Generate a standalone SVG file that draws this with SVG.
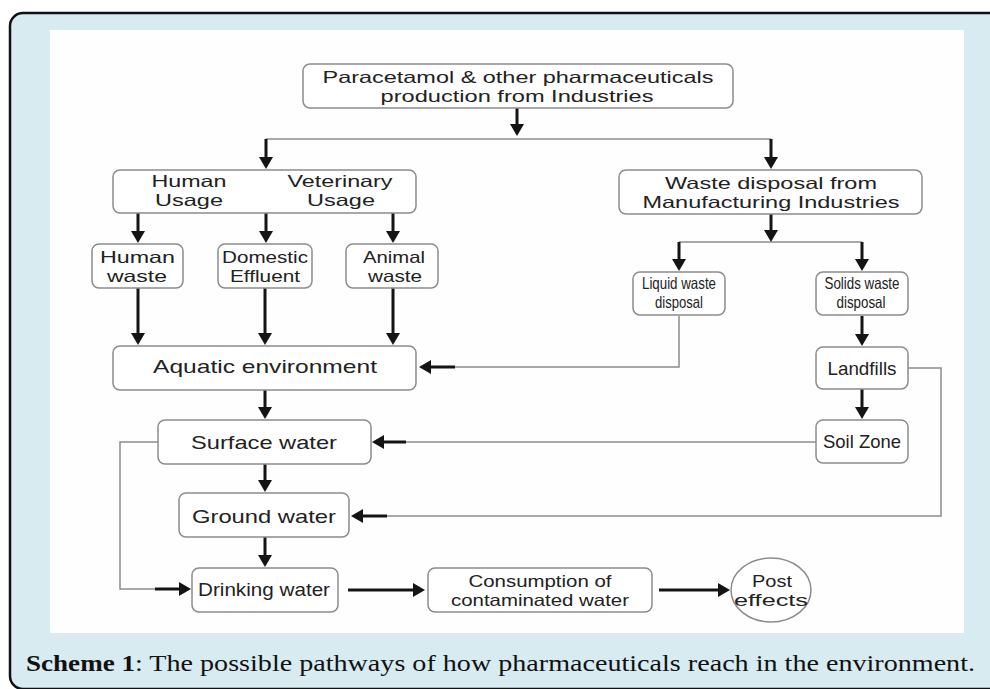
<svg xmlns="http://www.w3.org/2000/svg" width="990" height="689" viewBox="0 0 990 689">
<style>
.box{fill:#ffffff;stroke:#8c8c8c;stroke-width:1.5}
.t{font-family:"Liberation Sans",Arial,sans-serif;font-size:19px;fill:#222;text-anchor:middle}
.t2{font-family:"Liberation Sans",Arial,sans-serif;font-size:16.5px;fill:#222;text-anchor:middle}
.thin{fill:none;stroke:#8c8c8c;stroke-width:1.5}
.thick{stroke:#141414;stroke-width:3;marker-end:url(#ah)}
.cap{font-family:"Liberation Serif","Times New Roman",serif;font-size:23px;fill:#111}
</style>
<defs>
<marker id="ah" markerUnits="userSpaceOnUse" viewBox="0 0 12 14" markerWidth="12" markerHeight="14" refX="4" refY="7" orient="auto">
<path d="M0,0 L12,7 L0,14 z" fill="#141414"/>
</marker>
</defs>
<rect x="0" y="0" width="990" height="689" fill="#ffffff"/>
<rect x="10" y="13" width="1000" height="676" rx="13" fill="#d7ebf1" stroke="#111" stroke-width="2.5"/>
<rect x="50" y="30" width="914" height="603" fill="#fefefe"/>

<g id="connectors">
<path class="thin" d="M266,139 H771"/>
<path class="thin" d="M266,170 V213"/>
<path class="thin" d="M679,242 H862"/>
<path class="thin" d="M679,316 V367 H455"/>
<path class="thin" d="M816,442 H406"/>
<path class="thin" d="M908,368 H941 V516 H387"/>
<path class="thin" d="M158,442 H120 V589 H155"/>
<line class="thick" x1="517" y1="108" x2="517" y2="128"/>
<line class="thick" x1="266" y1="139" x2="266" y2="161"/>
<line class="thick" x1="771" y1="139" x2="771" y2="161"/>
<line class="thick" x1="138" y1="213" x2="138" y2="235"/>
<line class="thick" x1="266" y1="213" x2="266" y2="235"/>
<line class="thick" x1="393" y1="213" x2="393" y2="235"/>
<line class="thick" x1="138" y1="288" x2="138" y2="337"/>
<line class="thick" x1="265" y1="288" x2="265" y2="337"/>
<line class="thick" x1="393" y1="288" x2="393" y2="337"/>
<line class="thick" x1="771" y1="214" x2="771" y2="234"/>
<line class="thick" x1="679" y1="242" x2="679" y2="263"/>
<line class="thick" x1="862" y1="242" x2="862" y2="263"/>
<line class="thick" x1="862" y1="316" x2="862" y2="338"/>
<line class="thick" x1="862" y1="389" x2="862" y2="411"/>
<line class="thick" x1="455" y1="367" x2="427" y2="367"/>
<line class="thick" x1="265" y1="390" x2="265" y2="411"/>
<line class="thick" x1="406" y1="442" x2="380" y2="442"/>
<line class="thick" x1="265" y1="464" x2="265" y2="484"/>
<line class="thick" x1="387" y1="516" x2="359" y2="516"/>
<line class="thick" x1="265" y1="537" x2="265" y2="559"/>
<line class="thick" x1="155" y1="589" x2="183" y2="589"/>
<line class="thick" x1="348" y1="590" x2="417" y2="590"/>
<line class="thick" x1="659" y1="590" x2="722" y2="590"/>
</g>

<g id="n-production">
<rect class="box" x="303" y="64" width="430" height="44" rx="7"/>
<text class="t2" x="518" y="83" textLength="391" lengthAdjust="spacingAndGlyphs">Paracetamol &amp; other pharmaceuticals</text>
<text class="t2" x="517" y="102" textLength="273" lengthAdjust="spacingAndGlyphs">production from Industries</text>
</g>
<g id="n-usage">
<rect class="box" x="113" y="170" width="303" height="43" rx="7"/>
<text class="t2" x="189" y="187" textLength="75" lengthAdjust="spacingAndGlyphs">Human</text>
<text class="t2" x="189" y="206" textLength="68" lengthAdjust="spacingAndGlyphs">Usage</text>
<text class="t2" x="340" y="187" textLength="105" lengthAdjust="spacingAndGlyphs">Veterinary</text>
<text class="t2" x="341" y="206" textLength="68" lengthAdjust="spacingAndGlyphs">Usage</text>
</g>
<g id="n-waste-disposal">
<rect class="box" x="619" y="170" width="303" height="44" rx="7"/>
<text class="t2" x="771" y="189" textLength="212" lengthAdjust="spacingAndGlyphs">Waste disposal from</text>
<text class="t2" x="771" y="208" textLength="257" lengthAdjust="spacingAndGlyphs">Manufacturing Industries</text>
</g>
<g id="n-human-waste">
<rect class="box" x="92" y="244" width="91" height="44" rx="7"/>
<text class="t2" x="137.5" y="263" textLength="75" lengthAdjust="spacingAndGlyphs">Human</text>
<text class="t2" x="137" y="282" textLength="60" lengthAdjust="spacingAndGlyphs">waste</text>
</g>
<g id="n-domestic">
<rect class="box" x="218" y="244" width="94" height="44" rx="7"/>
<text class="t2" x="265" y="263" textLength="86" lengthAdjust="spacingAndGlyphs">Domestic</text>
<text class="t2" x="265" y="282" textLength="70" lengthAdjust="spacingAndGlyphs">Effluent</text>
</g>
<g id="n-animal">
<rect class="box" x="346" y="244" width="92" height="44" rx="7"/>
<text class="t2" x="394" y="263" textLength="62" lengthAdjust="spacingAndGlyphs">Animal</text>
<text class="t2" x="395" y="282" textLength="54" lengthAdjust="spacingAndGlyphs">waste</text>
</g>
<g id="n-liquid">
<rect class="box" x="633" y="272" width="92" height="43" rx="7"/>
<text class="t2" x="679" y="289" textLength="74" lengthAdjust="spacingAndGlyphs">Liquid waste</text>
<text class="t2" x="679" y="308" textLength="48" lengthAdjust="spacingAndGlyphs">disposal</text>
</g>
<g id="n-solids">
<rect class="box" x="816" y="272" width="92" height="43" rx="7"/>
<text class="t2" x="862" y="289" textLength="75" lengthAdjust="spacingAndGlyphs">Solids waste</text>
<text class="t2" x="861" y="308" textLength="49" lengthAdjust="spacingAndGlyphs">disposal</text>
</g>
<g id="n-aquatic">
<rect class="box" x="113" y="346" width="303" height="44" rx="7"/>
<text class="t" x="265" y="373" textLength="224" lengthAdjust="spacingAndGlyphs">Aquatic  environment</text>
</g>
<g id="n-landfills">
<rect class="box" x="816" y="347" width="92" height="42" rx="7"/>
<text class="t" x="862" y="375" textLength="69" lengthAdjust="spacingAndGlyphs">Landfills</text>
</g>
<g id="n-surface">
<rect class="box" x="158" y="420" width="213" height="44" rx="7"/>
<text class="t" x="264" y="449" textLength="146" lengthAdjust="spacingAndGlyphs">Surface water</text>
</g>
<g id="n-soil">
<rect class="box" x="816" y="420" width="92" height="43" rx="7"/>
<text class="t" x="862" y="448" textLength="78" lengthAdjust="spacingAndGlyphs">Soil Zone</text>
</g>
<g id="n-ground">
<rect class="box" x="179" y="493" width="170" height="44" rx="7"/>
<text class="t" x="264" y="523" textLength="144" lengthAdjust="spacingAndGlyphs">Ground water</text>
</g>
<g id="n-drinking">
<rect class="box" x="192" y="568" width="146" height="44" rx="7"/>
<text class="t" x="264" y="596" textLength="132" lengthAdjust="spacingAndGlyphs">Drinking water</text>
</g>
<g id="n-consumption">
<rect class="box" x="428" y="568" width="224" height="44" rx="7"/>
<text class="t2" x="540" y="587" textLength="143" lengthAdjust="spacingAndGlyphs">Consumption of</text>
<text class="t2" x="540" y="606" textLength="178" lengthAdjust="spacingAndGlyphs">contaminated water</text>
</g>
<g id="n-post">
<ellipse class="box" cx="771" cy="590" rx="40" ry="32"/>
<text class="t2" x="772" y="587" textLength="40" lengthAdjust="spacingAndGlyphs">Post</text>
<text class="t2" x="771" y="606" textLength="74" lengthAdjust="spacingAndGlyphs">effects</text>
</g>

<g id="caption">
<text class="cap" x="26" y="671" font-weight="bold" textLength="109" lengthAdjust="spacingAndGlyphs">Scheme 1</text>
<text class="cap" x="135" y="671" textLength="840" lengthAdjust="spacingAndGlyphs">: The possible pathways of how pharmaceuticals reach in the environment.</text>
</g>
</svg>
